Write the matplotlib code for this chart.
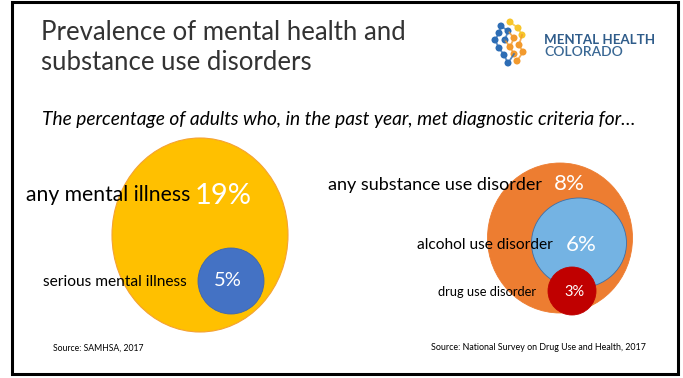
import matplotlib
matplotlib.use("Agg")
import matplotlib.pyplot as plt
from matplotlib.patches import Ellipse, Circle, Rectangle

plt.rcParams['font.family'] = ['Lato', 'DejaVu Sans']

# prevalence among adults, past year (%)
mental_labels = ["any mental illness", "serious mental illness"]
mental_values = [19, 5]
substance_labels = ["any substance use disorder", "alcohol use disorder", "drug use disorder"]
substance_values = [8, 6, 3]

title_lines = ["Prevalence of mental health and", "substance use disorders"]
subtitle = "The percentage of adults who, in the past year, met diagnostic criteria for\u2026"
sources = ["Source: SAMHSA, 2017", "Source: National Survey on Drug Use and Health, 2017"]

# slide is laid out in pixel units
W, H = 683, 378
fig = plt.figure(figsize=(W / 100, H / 100), dpi=100)
ax = fig.add_axes([0, 0, 1, 1])
ax.set_xlim(0, W)
ax.set_ylim(H, 0)
ax.axis("off")

ax.add_patch(Rectangle((11.5, 1.5), 666, 372, fill=False, ec="black", lw=2.2))

for i, line in enumerate(title_lines):
    ax.text(41, 32 + 30 * i, line, fontsize=18.5, va="center", color="#333333")
ax.text(42, 119, subtitle, fontsize=13.75, style="italic", va="center", color="black")

# logo: small dot network plus name
blue, yellow, orange = "#2D6DB5", "#F7C52B", "#F29A2E"
dots = [(501, 26, blue), (510, 22, yellow), (499, 33, blue), (508, 31, blue),
        (518, 28, yellow), (495, 40, blue), (505, 40, blue), (514, 38, orange),
        (522, 35, yellow), (499, 48, blue), (510, 47, orange), (519, 45, orange),
        (504, 55, blue), (514, 54, orange), (523, 52, orange), (508, 63, blue),
        (517, 61, orange)]
links = [(0, 2), (2, 5), (5, 9), (9, 12), (1, 4), (4, 8), (3, 7), (7, 10), (10, 13),
         (13, 15), (8, 11), (11, 14), (6, 10), (12, 15), (14, 16), (0, 3), (3, 6)]
for a, b in links:
    ax.plot([dots[a][0], dots[b][0]], [dots[a][1], dots[b][1]],
            color=dots[b][2], lw=1.3, alpha=0.8)
for x, y, c in dots:
    ax.add_patch(Circle((x, y), 3.5, color=c, lw=0))
ax.text(544, 40, "MENTAL HEALTH", fontsize=9.6, fontweight="bold", color="#2F5C8A",
        va="center")
ax.text(544, 52, "COLORADO", fontsize=10, fontweight="semibold", color="#3A6894",
        va="center")

# mental illness bubbles
ax.add_patch(Ellipse((200, 235), 176, 194, fc="#FFC000", ec="#F4A234", lw=0.8))
ax.add_patch(Circle((231, 281), 33, fc="#4472C4", ec="#3D65AE", lw=0.6))

# substance use bubbles
ax.add_patch(Ellipse((560, 238), 145, 150, fc="#ED7D31", ec="#ED7D31", lw=0.6))
ax.add_patch(Ellipse((579, 243), 95, 90, fc="#74B3E3", ec="#3E6FA8", lw=0.6))
ax.add_patch(Circle((572, 291), 24, fc="#C00000", ec="#C00000", lw=0.6))

ax.text(190, 195, mental_labels[0], fontsize=15.2, ha="right", va="center")
ax.text(195, 196, f"{mental_values[0]}%", fontsize=21, color="white", va="center")
ax.text(187, 282, mental_labels[1], fontsize=11.2, ha="right", va="center")
ax.text(228, 281, f"{mental_values[1]}%", fontsize=14.5, color="white", ha="center",
        va="center")

ax.text(542, 185, substance_labels[0], fontsize=13, ha="right", va="center")
ax.text(554, 184, f"{substance_values[0]}%", fontsize=16, color="white", va="center")
ax.text(553, 245, substance_labels[1], fontsize=11.2, ha="right", va="center")
ax.text(581, 245, f"{substance_values[1]}%", fontsize=16, color="white", ha="center",
        va="center")
ax.text(536, 292, substance_labels[2], fontsize=9.3, ha="right", va="center")
ax.text(574, 292, f"{substance_values[2]}%", fontsize=10.5, color="white", ha="center",
        va="center")

ax.text(53, 348, sources[0], fontsize=6.2, va="center")
ax.text(646, 348, sources[1], fontsize=6.4, ha="right", va="center")

fig.savefig("out.png", dpi=100)
